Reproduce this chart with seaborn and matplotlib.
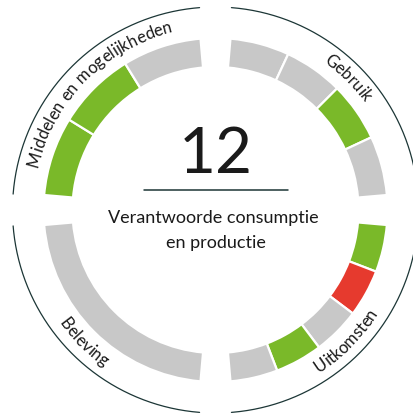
import numpy as np
import matplotlib
matplotlib.use("Agg")
import matplotlib.pyplot as plt
import seaborn as sns
from matplotlib.font_manager import FontProperties

# Indicator scores per theme, listed clockwise within each quarter
themes = ["Middelen en mogelijkheden", "Gebruik", "Uitkomsten", "Beleving"]
middelen = ["positief", "positief", "onbekend"]
gebruik = ["onbekend", "onbekend", "positief", "onbekend"]
uitkomsten = ["positief", "negatief", "onbekend", "positief", "onbekend"]
beleving = ["onbekend"]
goal_number = "12"
goal_title = ["Verantwoorde consumptie", "en productie"]

sns.set_theme(style="white")
plt.rcParams["font.family"] = ["Lato", "DejaVu Sans"]

palette = {"positief": "#7ab929", "negatief": "#e63a2e", "onbekend": "#c8c8c8"}
ink = "#1a1a1a"
line_col = "#1c3636"

W, H, DPI = 413, 416, 100
fig = plt.figure(figsize=(W / DPI, H / DPI), dpi=DPI)
fig.patch.set_facecolor("white")

# one radial unit == one pixel
R = 210
cx, cy = 215.5, 416 - 210
rect = [(cx - R) / W, (cy - R) / H, 2 * R / W, 2 * R / H]
ax = fig.add_axes(rect, projection="polar")
ax.set_theta_zero_location("E")
ax.set_theta_direction(1)
ax.set_ylim(0, R)
ax.axis("off")

inner, outer = 143, 172
arc_r = 203
margin = 5.0

# quarter layout: clockwise start angle of each theme, label placement
quarters = [
    (180, middelen, True),
    (90, gebruik, True),
    (0, uitkomsten, False),
    (270, beleving, False),
]

renderer = fig.canvas.get_renderer()
label_prop = FontProperties(family=["Lato", "DejaVu Sans"], size=12)


def text_width(s):
    bar = renderer.get_text_width_height_descent("|", label_prop, ismath=False)[0]
    return renderer.get_text_width_height_descent(s + "|", label_prop, ismath=False)[0] - bar


def curved_label(text, center_deg, top):
    total = text_width(text)
    for i, ch in enumerate(text):
        if ch == " ":
            continue
        mid = (text_width(text[:i]) + text_width(text[: i + 1])) / 2 - total / 2
        if top:
            r = 183
            th = np.deg2rad(center_deg) - mid / r
            rot = np.rad2deg(th) - 90
        else:
            r = 193
            th = np.deg2rad(center_deg) + mid / r
            rot = np.rad2deg(th) + 90
        ax.text(th, r, ch, fontproperties=label_prop, color=ink,
                rotation=rot, rotation_mode="anchor",
                ha="center", va="baseline")


for name, (start, scores, top) in zip(themes, quarters):
    n = len(scores)
    span = 90 - 2 * margin
    w = span / n
    centers = start - margin - (np.arange(n) + 0.5) * w
    ax.bar(np.deg2rad(centers), outer - inner, width=np.deg2rad(w), bottom=inner,
           color=[palette[s] for s in scores], edgecolor="white", linewidth=1.6)
    th = np.deg2rad(np.linspace(start - 4.5, start - 85.5, 200))
    ax.plot(th, np.full_like(th, arc_r), color=line_col, lw=0.9)
    curved_label(name, start - 45, top)

# centre block
cax = fig.add_axes(rect)
cax.set_xlim(-R, R)
cax.set_ylim(-R, R)
cax.axis("off")
cax.text(0, 55, goal_number, ha="center", va="center", fontsize=46,
         fontweight="normal", color=ink)
cax.plot([-72, 72], [20, 20], color=line_col, lw=1.1)
cax.text(-2, -13, goal_title[0], ha="center", va="baseline", fontsize=13, color=ink)
cax.text(0, -38, goal_title[1], ha="center", va="baseline", fontsize=13, color=ink)

fig.savefig("out.png", dpi=DPI)
